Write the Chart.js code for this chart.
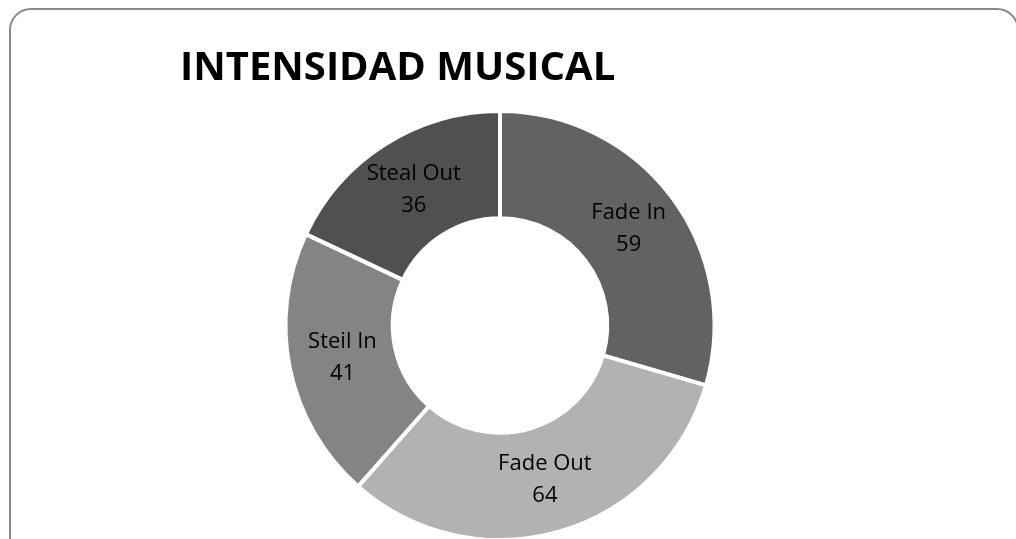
<!DOCTYPE html>
<html>
<head>
<meta charset="utf-8">
<script src="https://cdn.jsdelivr.net/npm/chart.js@4"></script>
<style>
  html, body { margin: 0; padding: 0; background: #fff; overflow: hidden; }
  #wrap { position: relative; width: 1016px; height: 560px; }
  #frame {
    position: absolute; left: 9px; top: 8px; width: 1010px; height: 600px;
    border: 2px solid #898989; border-radius: 22px; box-sizing: border-box;
  }
  #chartBox { position: absolute; left: 0; top: 0; width: 1016px; height: 560px; }
</style>
</head>
<body>
<div id="wrap">
  <div id="frame"></div>
  <div id="chartBox"><canvas id="donut"></canvas></div>
</div>
<script>
  const categories = ['Fade In', 'Fade Out', 'Steil In', 'Steal Out'];
  const counts = [59, 64, 41, 36];
  const sliceColors = ['#626262', '#b2b2b2', '#848484', '#505050'];

  // two-line "name / value" labels placed at each arc's centre point
  const sliceLabels = {
    id: 'sliceLabels',
    afterDatasetsDraw(chart) {
      const ctx = chart.ctx;
      const meta = chart.getDatasetMeta(0);
      ctx.save();
      ctx.font = '22px "Open Sans", sans-serif';
      ctx.fillStyle = '#000';
      ctx.textAlign = 'center';
      ctx.textBaseline = 'middle';
      meta.data.forEach((arc, i) => {
        const p = arc.getCenterPoint();
        ctx.fillText(chart.data.labels[i], p.x, p.y - 16);
        ctx.fillText(String(chart.data.datasets[0].data[i]), p.x, p.y + 16);
      });
      ctx.restore();
    }
  };

  new Chart(document.getElementById('donut'), {
    type: 'doughnut',
    data: {
      labels: categories,
      datasets: [{
        data: counts,
        backgroundColor: sliceColors,
        borderColor: '#ffffff',
        borderWidth: 4
      }]
    },
    options: {
      responsive: true,
      maintainAspectRatio: false,
      animation: false,
      events: [],
      cutout: '50%',
      layout: { padding: { left: 180, right: 196, top: 0, bottom: 18 } },
      plugins: {
        legend: { display: false },
        tooltip: { enabled: false },
        title: {
          display: true,
          text: 'INTENSIDAD MUSICAL',
          align: 'start',
          color: '#000',
          font: { family: '"Open Sans", sans-serif', size: 40, weight: 'bold' },
          padding: { top: 45, bottom: 16 }
        }
      }
    },
    plugins: [sliceLabels]
  });
</script>
</body>
</html>
